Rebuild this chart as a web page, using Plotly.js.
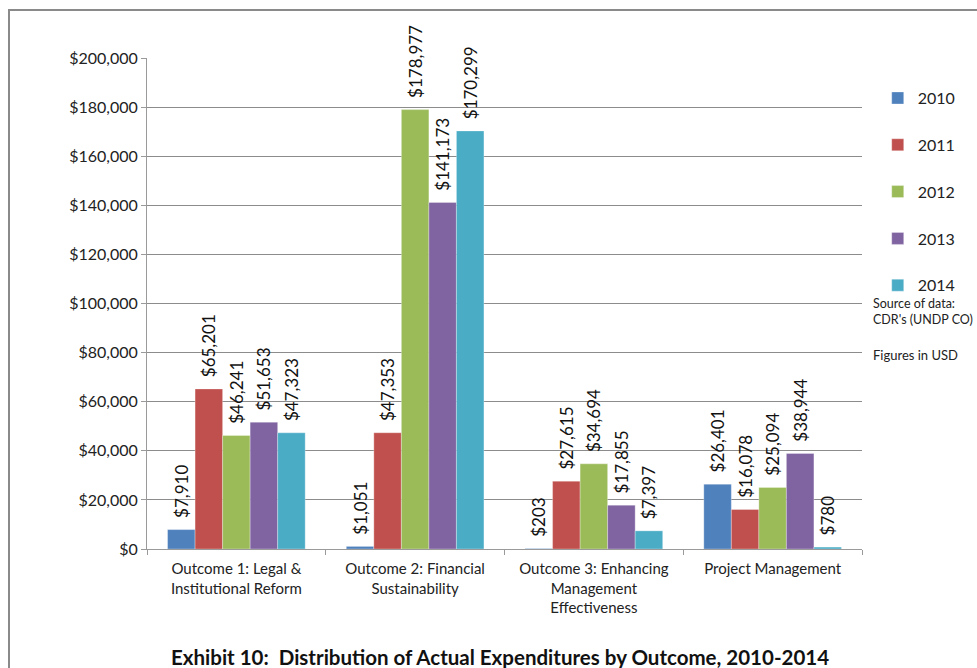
<!DOCTYPE html>
<html>
<head>
<meta charset="utf-8">
<script src="https://cdn.plot.ly/plotly-3.0.1.min.js"></script>
<style>html,body{margin:0;padding:0;background:#fff;}#chart{width:977px;height:668px;}</style>
</head>
<body>
<div id="chart"></div>
<script>
const categories = [
  "Outcome 1: Legal &<br>Institutional Reform",
  "Outcome 2: Financial<br>Sustainability",
  "Outcome 3: Enhancing<br>Management<br>Effectiveness",
  "Project Management"
];
const years = ["2010", "2011", "2012", "2013", "2014"];
const v2010 = [7910, 1051, 203, 26401];
const v2011 = [65201, 47353, 27615, 16078];
const v2012 = [46241, 178977, 34694, 25094];
const v2013 = [51653, 141173, 17855, 38944];
const v2014 = [47323, 170299, 7397, 780];
const seriesValues = [v2010, v2011, v2012, v2013, v2014];
const colors = ["#4F81BD", "#C0504D", "#9BBB59", "#8064A2", "#4BACC6"];

const FONT = "Lato, 'Open Sans', sans-serif";
const traces = years.map((yr, i) => ({
  type: "bar",
  name: yr,
  legendgroup: yr,
  x: categories,
  y: seriesValues[i],
  marker: {color: colors[i], line: {color: "rgba(255,255,255,0.6)", width: 0.5}},
  texttemplate: "\u00a0\u00a0$%{y:,}",
  textposition: "outside",
  textangle: -90,
  cliponaxis: false,
  constraintext: "none",
  textfont: {family: FONT, size: 17, color: "#111"},
  hoverinfo: "skip"
}));

const layout = {
  width: 977, height: 668,
  margin: {l: 147, r: 115, t: 58, b: 119, autoexpand: false},
  paper_bgcolor: "#fff", plot_bgcolor: "#fff",
  font: {family: FONT, size: 15, color: "#222"},
  barmode: "group",
  bargap: 0.23,
  bargroupgap: 0,
  showlegend: true,
  legend: {
    x: 1.022, xanchor: "left", y: 0.953, yanchor: "top",
    font: {family: FONT, size: 16, color: "#222"},
    tracegroupgap: 23,
    itemwidth: 30,
    bgcolor: "rgba(0,0,0,0)"
  },
  xaxis: {
    type: "category",
    showline: true, linecolor: "#9a9a9a", linewidth: 1,
    ticks: "outside", tickson: "boundaries", ticklen: 5, tickcolor: "#9a9a9a",
    ticklabelstandoff: 6,
    tickfont: {family: FONT, size: 15, color: "#222"},
    showgrid: false, fixedrange: true
  },
  yaxis: {
    range: [0, 200000], dtick: 20000,
    tickprefix: "$", tickformat: ",",
    showline: true, linecolor: "#9a9a9a", linewidth: 1,
    ticks: "outside", ticklen: 5, tickcolor: "#9a9a9a",
    showgrid: true, gridcolor: "#8c8c8c", gridwidth: 1,
    zeroline: false,
    tickfont: {family: FONT, size: 16, color: "#222"},
    fixedrange: true
  },
  shapes: [{
    type: "rect", xref: "paper", yref: "paper",
    x0: -0.193, x1: 1.6, y0: -0.5, y1: 1.0978,
    line: {color: "#8a8a8a", width: 2}, fillcolor: "rgba(0,0,0,0)", layer: "below"
  }],
  annotations: [
    {xref: "paper", yref: "paper", x: 1.013, y: 0.483, xanchor: "left", yanchor: "middle", align: "left",
     text: "Source of data:<br>CDR's (UNDP CO)", showarrow: false,
     font: {family: FONT, size: 12.5, color: "#222"}},
    {xref: "paper", yref: "paper", x: 1.013, y: 0.395, xanchor: "left", yanchor: "middle", align: "left",
     text: "Figures in USD", showarrow: false,
     font: {family: FONT, size: 13, color: "#222"}},
    {xref: "paper", yref: "paper", x: 0.494, y: -0.22, xanchor: "center", yanchor: "middle",
     text: "<b>Exhibit 10:  Distribution of Actual Expenditures by Outcome, 2010-2014</b>", showarrow: false,
     font: {family: FONT, size: 20.5, color: "#111"}}
  ]
};

Plotly.newPlot("chart", traces, layout, {displayModeBar: false, staticPlot: true});
</script>
</body>
</html>
